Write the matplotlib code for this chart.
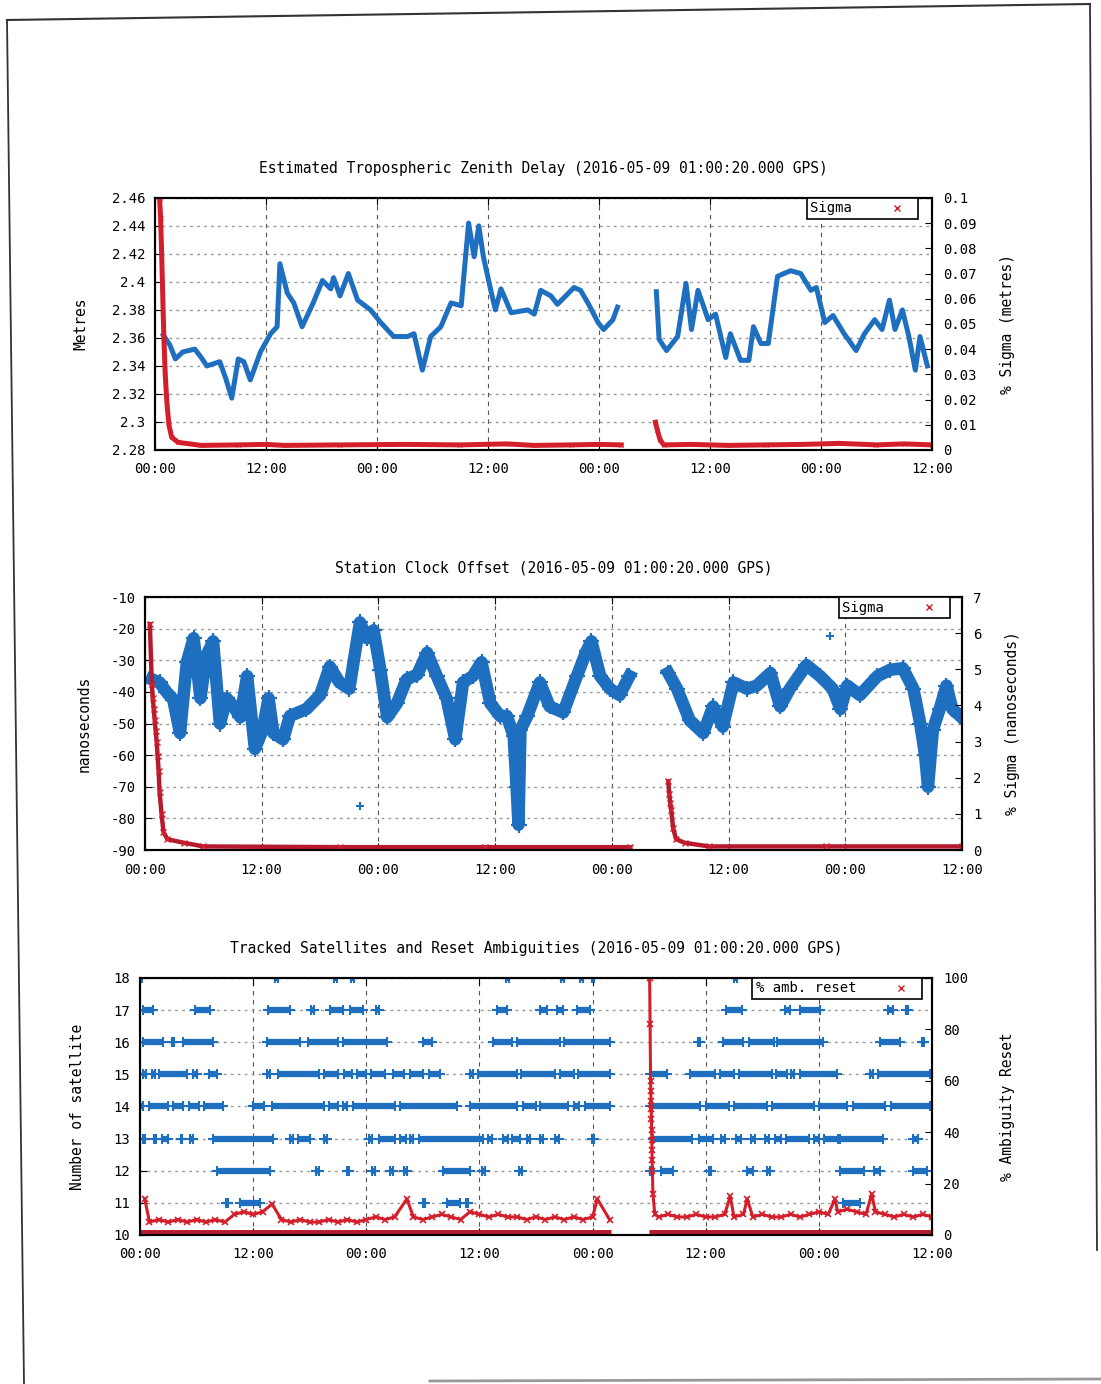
import matplotlib.pyplot as plt
from matplotlib.lines import Line2D

nan = float('nan')

BLUE = '#1f6fc0'
RED = '#d21f2b'
DARKRED = '#b51a2e'

hour_ticks = [0, 12, 24, 36, 48, 60, 72, 84]
hour_labels = ['00:00', '12:00', '00:00', '12:00', '00:00', '12:00', '00:00', '12:00']

# ---------------- tropospheric zenith delay (metres)
ztd_t = [0.9, 1.6, 2.2, 3.0, 4.3, 5.0, 5.6, 7.0, 7.6, 8.3, 9.0, 9.6, 10.3, 11.4, 12.5,
         13.2, 13.5, 14.0, 14.3, 15.0, 15.9, 17.1, 18.1, 19.0, 19.3, 20.0, 20.9, 21.9,
         23.3, 24.4, 25.8, 27.3, 28.0, 28.9, 29.8, 30.9, 32.0, 33.1, 33.9, 34.5, 35.0,
         35.5, 36.3, 36.8, 37.4, 38.5, 40.3, 41.0, 41.7, 42.8, 43.5, 45.3, 46.0, 46.8,
         47.9, 48.5, 49.5, 50.0, nan,
         54.2, 54.5, 55.3, 56.5, 57.4, 58.0, 58.7, 59.8, 60.6, 61.7, 62.2, 63.3, 64.2,
         64.7, 65.5, 66.3, 67.3, 68.7, 69.8, 70.9, 71.5, 72.4, 73.3, 74.5, 75.8, 76.7,
         77.8, 78.6, 79.4, 80.0, 80.8, 81.5, 82.2, 82.7, 83.5]
ztd_m = [2.362, 2.355, 2.345, 2.350, 2.352, 2.346, 2.340, 2.343, 2.332, 2.317, 2.345,
         2.343, 2.330, 2.350, 2.363, 2.368, 2.413, 2.400, 2.392, 2.385, 2.368, 2.385,
         2.401, 2.395, 2.403, 2.390, 2.406, 2.387, 2.380, 2.371, 2.361, 2.361, 2.363,
         2.337, 2.361, 2.368, 2.385, 2.383, 2.442, 2.418, 2.440, 2.418, 2.394, 2.380,
         2.395, 2.378, 2.380, 2.377, 2.394, 2.390, 2.384, 2.396, 2.394, 2.385, 2.371,
         2.366, 2.373, 2.382, nan,
         2.393, 2.359, 2.351, 2.361, 2.399, 2.366, 2.394, 2.373, 2.377, 2.346, 2.363,
         2.344, 2.344, 2.368, 2.356, 2.356, 2.404, 2.408, 2.406, 2.394, 2.396, 2.371,
         2.376, 2.363, 2.351, 2.363, 2.373, 2.366, 2.387, 2.366, 2.380, 2.361, 2.337,
         2.361, 2.340]
ztd_sig_t = [0.5, 0.6, 0.7, 0.8, 0.9, 1.0, 1.1, 1.3, 1.5, 1.8, 2.5, 5, 9, 12, 14, 20, 27,
             33, 38, 41, 45, 48, 50.4, nan,
             54.1, 54.3, 54.6, 55.0, 58, 62, 66, 70, 74, 78, 81, 84]
ztd_sig = [0.100, 0.092, 0.080, 0.066, 0.052, 0.040, 0.030, 0.018, 0.010, 0.005, 0.003,
           0.0018, 0.0020, 0.0022, 0.0018, 0.0020, 0.0022, 0.0020, 0.0024, 0.0018,
           0.0020, 0.0022, 0.0020, nan,
           0.011, 0.008, 0.004, 0.002, 0.0022, 0.0018, 0.0020, 0.0022, 0.0026, 0.0020,
           0.0024, 0.0020]

# ---------------- station clock offset (nanoseconds)
clk_t = [0.7, 1.5, 2.2, 2.9, 3.6, 4.3, 5.0, 5.7, 6.3, 7.0, 7.7, 8.4, 9.1, 9.8, 10.5,
         11.3, 12.1, 12.7, 13.2, 14.2, 14.9, 16.6, 18.0, 19.0, 20.0, 21.0, 22.1, 22.8,
         23.5, 24.2, 24.9, 25.9, 26.9, 28.0, 29.0, 30.0, 31.0, 31.9, 32.7, 33.7, 34.6,
         35.5, 36.5, 37.2, 37.9, 38.2, 38.4, 38.6, 39.3, 40.6, 41.6, 43.0, 44.4, 45.4,
         45.9, 46.8, 47.8, 48.8, 49.8, nan,
         53.8, 54.7, 56.0, 57.4, 58.4, 59.4, 60.5, 61.9, 62.9, 64.3, 65.3, 66.3, 68.0,
         69.4, 70.7, 71.5, 72.2, 73.5, 75.3, 76.6, 77.9, 79.0, 79.7, 80.2, 80.5, 81.0,
         81.7, 82.4, 83.0, 83.8]
clk_ns = [-36, -37, -40, -42.4, -53, -30.6, -23, -42, -28.6, -24, -50, -42, -44.6, -48,
          -35, -58, -52, -42, -53, -55, -47.6, -45.4, -41, -32, -37, -39, -18, -23,
          -20.5, -33, -48, -43.6, -36, -34.5, -27.6, -35, -42, -55, -37, -35, -30.6,
          -43.6, -47.6, -47.6, -54, -70, -82, -52, -47.6, -37, -44.6, -46.5, -35, -27,
          -24, -35, -39, -41, -35, nan,
          -34, -39, -49, -53, -44.6, -51, -37, -39, -38, -34, -44.6, -39, -31.5, -35,
          -39, -45.4, -38, -41, -35, -33, -32.5, -39, -50, -60, -70, -52, -45.4, -38,
          -45.4, -47.6]
clk_out_t = [22.1, 70.4]
clk_out_ns = [-76, -22.4]
clk_sig_t = [0.5, 0.7, 0.8, 0.9, 1.0, 1.1, 1.2, 1.3, 1.4, 1.5, 1.7, 1.9, 2.3, 4.0, 6.0,
             20, 35, 49.9, nan,
             53.8, 53.9, 54.0, 54.1, 54.3, 54.6, 55.5, 58, 70, 84]
clk_sig = [6.25, 4.6, 4.2, 3.9, 3.6, 3.3, 3.0, 2.6, 2.2, 1.6, 1.0, 0.5, 0.3, 0.2, 0.1,
           0.08, 0.08, 0.08, nan,
           1.9, 1.55, 1.3, 1.1, 0.6, 0.3, 0.2, 0.1, 0.1, 0.1]

# ---------------- tracked satellites: (start h, end h) per satellite count
sat_rows = {
    18: [(0.0, 0.2), (14.3, 14.6), (20.6, 20.9), (22.4, 22.7), (38.8, 39.1),
         (44.7, 45.0), (46.7, 47.0), (47.9, 48.2), (63.0, 63.3), (70.7, 71.0)],
    17: [(0.3, 1.4), (5.8, 7.4), (13.6, 15.9), (18.1, 18.4), (20.1, 21.5), (22.3, 23.6),
         (25.0, 25.3), (37.9, 38.9), (42.4, 43.2), (44.2, 44.9), (46.3, 47.7),
         (62.2, 63.9), (68.4, 68.9), (70.0, 72.1), (79.3, 79.9), (81.2, 81.5)],
    16: [(0.3, 2.4), (3.4, 3.6), (4.6, 7.7), (13.5, 17.0), (17.8, 21.0), (21.5, 26.2),
         (30.0, 31.0), (37.4, 39.5), (40.0, 44.5), (45.0, 49.8), (59.2, 59.4),
         (61.8, 64.0), (64.6, 67.2), (67.6, 72.4), (78.5, 80.6), (82.9, 83.2)],
    15: [(0.3, 0.6), (1.3, 1.6), (2.0, 5.0), (5.6, 6.0), (7.3, 8.2), (13.5, 13.8),
         (14.6, 19.0), (19.5, 21.0), (21.6, 22.5), (23.0, 24.0), (24.5, 26.0),
         (26.8, 28.0), (28.6, 30.0), (30.6, 31.8), (35.0, 35.3), (35.8, 40.0),
         (40.4, 44.0), (44.5, 46.0), (46.5, 49.8), (54.1, 55.9), (58.3, 61.0),
         (61.5, 63.0), (63.5, 67.0), (67.5, 68.6), (69.0, 69.4), (70.0, 73.9),
         (77.4, 77.7), (78.3, 83.8)],
    14: [(0.0, 0.3), (1.0, 3.0), (3.5, 4.6), (5.2, 6.2), (6.8, 8.8), (12.0, 13.2),
         (14.0, 19.5), (20.0, 21.0), (21.5, 22.0), (22.6, 27.0), (27.6, 33.6),
         (35.0, 40.0), (40.6, 42.0), (42.4, 45.4), (46.0, 46.6), (47.2, 49.8),
         (54.1, 59.4), (60.0, 62.5), (63.0, 66.5), (67.0, 71.5), (72.0, 75.0),
         (75.6, 79.0), (79.6, 83.8)],
    13: [(0.3, 0.5), (1.5, 1.7), (2.3, 3.0), (4.3, 4.5), (5.3, 5.6), (7.7, 14.1),
         (15.9, 16.2), (16.8, 18.0), (19.5, 19.8), (24.3, 24.6), (25.3, 27.0),
         (27.6, 28.2), (28.6, 29.0), (29.6, 36.4), (36.9, 37.3), (38.5, 39.0),
         (39.5, 40.3), (41.0, 41.4), (42.4, 42.7), (44.0, 44.4), (47.9, 48.1),
         (54.4, 58.5), (59.3, 60.8), (61.6, 62.0), (63.2, 63.7), (64.8, 65.2),
         (66.3, 66.7), (67.4, 68.0), (68.5, 71.0), (71.5, 72.0), (72.5, 74.0),
         (74.2, 78.8), (82.0, 82.5)],
    12: [(8.2, 13.8), (18.7, 19.0), (22.0, 22.2), (24.6, 24.9), (26.5, 26.8),
         (28.0, 28.3), (32.1, 35.0), (36.3, 36.6), (40.2, 40.5), (54.1, 54.4),
         (55.3, 56.5), (60.3, 60.6), (64.4, 65.0), (66.5, 66.8), (74.2, 76.8),
         (77.8, 78.5), (82.0, 83.5)],
    11: [(9.1, 9.3), (10.6, 12.7), (30.0, 30.2), (32.6, 33.9), (34.6, 34.8),
         (74.6, 76.4)],
}

# ---------------- ambiguity reset (%)
amb_t = [0.5, 1, 2, 3, 4, 5, 6, 7, 8, 9, 10, 11, 12, 13, 14, 15, 16, 17, 18, 19, 20, 21,
         22, 23, 24, 25, 26, 27, 28.3, 29, 30, 31, 32, 33, 34, 35, 36, 37, 38, 39, 40,
         41, 42, 43, 44, 45, 46, 47, 48, 48.5, 49.8, nan,
         54.05, 54.1, 54.15, 54.18, 54.2, 54.22, 54.24, 54.26, 54.28, 54.3, 54.32,
         54.34, 54.4, 54.6, 55, 56, 57, 58, 59, 60, 61, 62, 62.6, 63, 64, 64.4, 65, 66,
         67, 68, 69, 70, 71, 72, 73, 73.7, 74, 75, 76, 77, 77.6, 78, 79, 80, 81, 82, 83,
         84]
amb_pct = [14, 5, 6, 5, 6, 5, 6, 5, 6, 5, 8, 9, 8, 9, 12, 6, 5, 6, 5, 5, 6, 5, 6, 5, 6,
           7, 6, 7, 14, 7, 6, 7, 8, 7, 6, 9, 8, 7, 8, 7, 7, 6, 7, 6, 7, 6, 7, 6, 7, 14, 6,
           nan,
           100, 82, 60, 56, 52, 49, 45, 41, 37, 33, 29, 25, 16, 8, 7, 8, 7, 7, 8, 7, 7, 8,
           15, 7, 8, 14, 7, 8, 7, 7, 8, 7, 8, 9, 8, 14, 9, 10, 9, 8, 16, 9, 8, 7, 8, 7, 8,
           7]
amb_zero_spans = [(0.0, 50.0), (54.0, 84.0)]

plt.rcParams['font.family'] = 'DejaVu Sans Mono'
plt.rcParams['font.size'] = 10

fig = plt.figure(figsize=(11.01, 13.84), dpi=100)

# scanned page border
page = fig.add_axes([0, 0, 1, 1])
page.set_xlim(0, 1101)
page.set_ylim(1384, 0)
page.axis('off')
page.plot([7, 1090], [20, 4], color='#333333', lw=1.5)
page.plot([7, 24], [20, 1384], color='#333333', lw=1.3)
page.plot([1090, 1097], [4, 1250], color='#333333', lw=1.3)
page.plot([430, 1101], [1381, 1379], color='#999999', lw=2)


def setup(rect, ylim, yticks, ylim2, yticks2, title, ylab, ylab2, lab_x, lab2_x):
    ax = fig.add_axes(rect)
    ax2 = ax.twinx()
    ax.set_xlim(0, 84)
    ax.set_ylim(*ylim)
    ax2.set_ylim(*ylim2)
    ax.set_xticks(hour_ticks)
    ax.set_xticklabels(hour_labels)
    ax.set_yticks(yticks)
    ax.set_yticklabels([f'{v:g}' for v in yticks])
    ax2.set_yticks(yticks2)
    ax2.set_yticklabels([f'{v:g}' for v in yticks2])
    ax.tick_params(axis='x', direction='in', top=True, length=5, pad=9)
    ax.tick_params(axis='y', direction='in', length=5, pad=7)
    ax2.tick_params(axis='y', direction='in', length=5, pad=8)
    ax.xaxis.grid(True, color='#555555', ls=(0, (4, 4)), lw=0.8)
    ax.yaxis.grid(True, color='#999999', ls=(0, (2, 3)), lw=1.0)
    for a in (ax, ax2):
        for s in a.spines.values():
            s.set_linewidth(1.5)
            s.set_color('black')
    ax.set_title(title, fontsize=10.5, pad=18)
    ax.set_ylabel(ylab, fontsize=10.5)
    ax.yaxis.set_label_coords(lab_x, 0.5)
    ax2.set_ylabel(ylab2, fontsize=10.5, rotation=90)
    ax2.yaxis.set_label_coords(lab2_x, 0.5)
    return ax, ax2


def key(ax2, text, right_gap):
    h = Line2D([], [], color=RED, marker='x', ls='none', ms=5)
    leg = ax2.legend([h], [text], loc='upper right', bbox_to_anchor=(1 - right_gap, 1.0),
                     borderaxespad=0, frameon=True, fancybox=False, markerfirst=False,
                     handlelength=2.5, handletextpad=2.0, borderpad=0.25, fontsize=10)
    leg.get_frame().set_edgecolor('black')
    leg.get_frame().set_linewidth(1.2)
    leg.get_frame().set_alpha(1)


# chart 1
ax, ax2 = setup([0.1408, 0.6749, 0.7057, 0.1821], (2.28, 2.46),
                [2.28, 2.30, 2.32, 2.34, 2.36, 2.38, 2.40, 2.42, 2.44, 2.46],
                (0, 0.1), [0, 0.01, 0.02, 0.03, 0.04, 0.05, 0.06, 0.07, 0.08, 0.09, 0.1],
                'Estimated Tropospheric Zenith Delay (2016-05-09 01:00:20.000 GPS)',
                'Metres', '% Sigma (metres)', -0.086, 1.088)
ax.plot(ztd_t, ztd_m, color=BLUE, lw=3.6)
ax2.plot(ztd_sig_t, ztd_sig, color=RED, lw=3.6, marker='x', ms=3, mew=0.8)
key(ax2, 'Sigma', 14 / 777)

# chart 2
ax, ax2 = setup([0.1317, 0.3858, 0.7421, 0.1828], (-90, -10),
                [-90, -80, -70, -60, -50, -40, -30, -20, -10],
                (0, 7), [0, 1, 2, 3, 4, 5, 6, 7],
                'Station Clock Offset (2016-05-09 01:00:20.000 GPS)',
                'nanoseconds', '% Sigma (nanoseconds)', -0.065, 1.052)
ax.plot(clk_t, clk_ns, color=BLUE, lw=9, marker='+', ms=11, mew=1.6)
ax.plot(clk_out_t, clk_out_ns, color=BLUE, ls='none', marker='+', ms=6, mew=1.5)
ax2.plot(clk_sig_t, clk_sig, color=DARKRED, lw=3.2)
ax2.plot(clk_sig_t, clk_sig, color=RED, ls='none', marker='x', ms=5, mew=1)
key(ax2, 'Sigma', 12 / 817)

# chart 3
ax, ax2 = setup([0.1272, 0.1077, 0.7193, 0.1857], (10, 18),
                [10, 11, 12, 13, 14, 15, 16, 17, 18],
                (0, 100), [0, 20, 40, 60, 80, 100],
                'Tracked Satellites and Reset Ambiguities (2016-05-09 01:00:20.000 GPS)',
                'Number of satellite', '% Ambiguity Reset', -0.069, 1.086)
for level, spans in sat_rows.items():
    starts = [s for s, e in spans]
    ends = [e for s, e in spans]
    ax.hlines([level] * len(spans), starts, ends, color=BLUE, lw=4.5)
    ax.plot(starts + ends, [level] * (2 * len(spans)), color=BLUE, ls='none',
            marker='+', ms=7, mew=1.5)
for s, e in amb_zero_spans:
    ax2.hlines(0.8, s, e, color=DARKRED, lw=5)
ax2.plot(amb_t, amb_pct, color=RED, lw=2.2, marker='x', ms=5, mew=1.2)
key(ax2, '% amb. reset', 10 / 792)

fig.savefig('out.png', dpi=100)
